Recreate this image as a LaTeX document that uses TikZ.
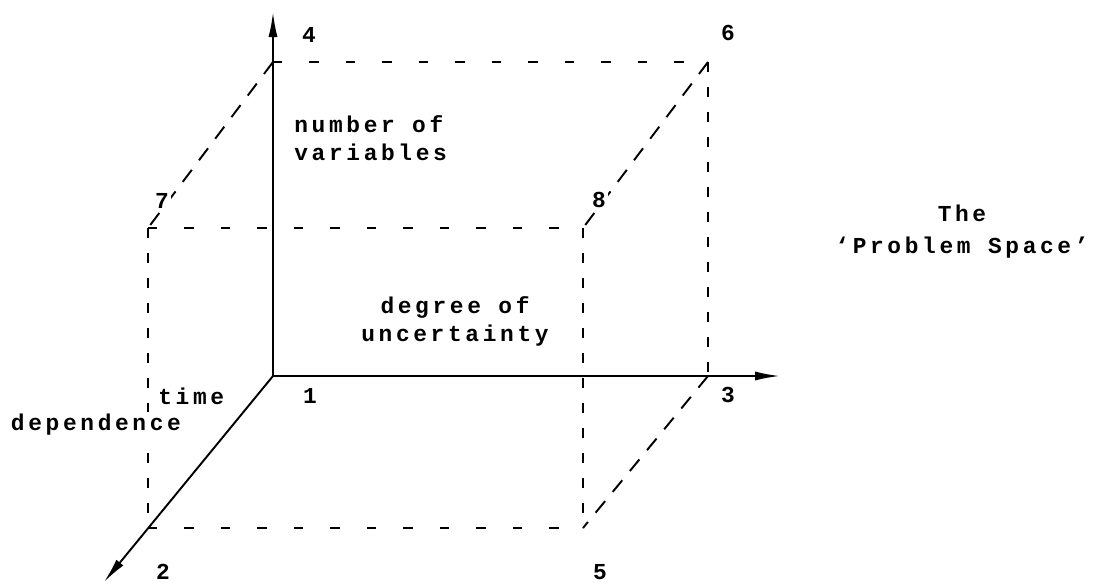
\documentclass[tikz,border=0pt]{standalone}
\usepackage{fontspec}
\setmainfont{Liberation Mono}[LetterSpace=16]
\usetikzlibrary{arrows.meta}

\begin{document}
\begin{tikzpicture}[
  axis/.style={-{Latex[length=5mm, width=1.8mm]}, line width=1.1pt},
  hedge/.style={line width=1.1pt, dash pattern=on 0.19cm off 0.54cm},
  vedge/.style={line width=1.1pt, dash pattern=on 0.2cm off 0.3cm},
  dedge/.style={line width=1.1pt, dash pattern=on 0.3cm off 0.24cm},
  lbl/.style={font=\fontsize{13}{16}\selectfont\bfseries, inner sep=0pt},
  tag/.style={lbl, fill=white, inner sep=1.5pt}
]
  \useasboundingbox (-5.46, -4.16) rectangle (16.52, 7.52);

  % Corners of the problem space
  \coordinate (c1) at (0, 0);
  \coordinate (c2) at (-2.5, -3.04);
  \coordinate (c3) at (8.7, 0);
  \coordinate (c4) at (0, 6.28);
  \coordinate (c5) at (6.2, -3.04);
  \coordinate (c6) at (8.7, 6.28);
  \coordinate (c7) at (-2.5, 2.96);
  \coordinate (c8) at (6.2, 2.96);

  % Axis ends
  \coordinate (xtip) at (10.14, 0);
  \coordinate (ytip) at (0, 7.28);
  \coordinate (ztip) at (-3.38, -4.12);

  % Dashed edges
  \draw[hedge] (c4) -- (c6);
  \draw[hedge] (c7) -- (c8);
  \draw[hedge] (c2) -- (c5);
  \draw[vedge] (c7) -- (c2);
  \draw[vedge] (c8) -- (c5);
  \draw[vedge] (c6) -- (c3);
  \draw[dedge] (c4) -- (c7);
  \draw[dedge] (c6) -- (c8);
  \draw[dedge] (c3) -- (c5);

  % Axes
  \draw[axis] (c1) -- (xtip);
  \draw[axis] (c1) -- (ytip);
  \draw[axis] (c1) -- (ztip);

  % Corner numbers
  \node[lbl] (n1) at (0.74, -0.4) {1};
  \node[lbl] (n2) at (-2.2, -3.92) {2};
  \node[lbl] (n3) at (9.1, -0.38) {3};
  \node[lbl] (n4) at (0.72, 6.82) {4};
  \node[lbl] (n5) at (6.54, -3.92) {5};
  \node[lbl] (n6) at (9.1, 6.86) {6};
  \node[tag] (n7) at (-2.22, 3.5) {7};
  \node[tag] (n8) at (6.52, 3.52) {8};

  % Axis names
  \node[lbl, anchor=west, align=left] (numvar) at (0.42, 4.75) {number of\\variables};
  \node[lbl, align=center] (uncert) at (3.64, 1.1) {degree of\\uncertainty};
  \node[lbl, anchor=west] (time) at (-2.3, -0.4) {time};
  \node[tag, anchor=west] (depend) at (-5.3, -0.98) {dependence};

  % Title
  \node[lbl, align=center] (title) at (13.78, 2.89) {The\\[2pt]`Problem Space'};
\end{tikzpicture}
\end{document}
